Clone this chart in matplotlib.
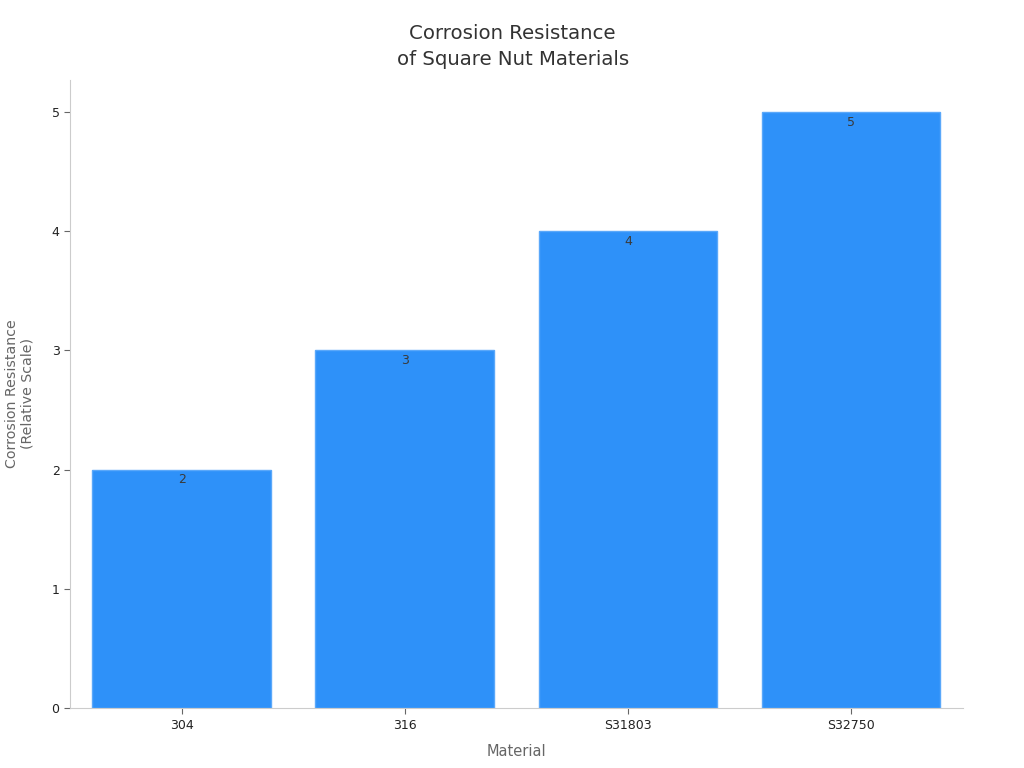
import matplotlib
matplotlib.use("Agg")
import matplotlib.pyplot as plt

materials = ["304", "316", "S31803", "S32750"]
resistance = [2, 3, 4, 5]

plt.rcParams['font.family'] = ['DejaVu Sans']
fig = plt.figure(figsize=(10.24, 7.68), dpi=100)
ax = fig.add_axes([0.0684, 0.078, 0.8716, 0.818])

bars = ax.bar(range(len(materials)), resistance, width=0.8, color="#2E91F9",
              edgecolor="#5AA8FA", linewidth=1)
for i, v in enumerate(resistance):
    ax.text(i, v - 0.03, str(v), ha="center", va="top", fontsize=9, color="#3a3a3a")

ax.set_xticks(range(len(materials)))
ax.set_xticklabels(materials, fontsize=9, color="#222222")
ax.set_xlim(-0.5, 3.5)
ax.set_ylim(0, 5.27)
ax.set_yticks([0, 1, 2, 3, 4, 5])
ax.tick_params(axis="y", labelsize=9, colors="#222222")
ax.tick_params(axis="both", color="#666666", length=4)
for s in ["top", "right"]:
    ax.spines[s].set_visible(False)
for s in ["left", "bottom"]:
    ax.spines[s].set_color("#cccccc")

ax.set_xlabel("Material", fontsize=10.5, color="#666666", labelpad=9)
ax.set_ylabel("Corrosion Resistance\n(Relative Scale)", fontsize=10.2, color="#666666", labelpad=12)
ax.set_title("Corrosion Resistance\nof Square Nut Materials", fontsize=14.2, color="#333333",
             pad=11, x=0.496, linespacing=1.45)

fig.savefig("out.png", dpi=100)
